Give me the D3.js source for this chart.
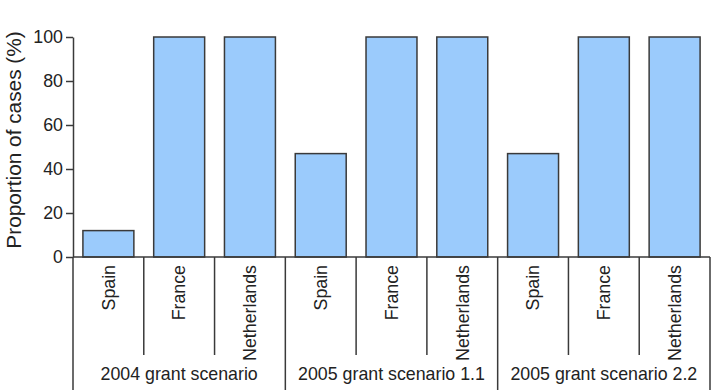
<!DOCTYPE html>
<html>
<head>
<meta charset="utf-8">
<script src="https://cdn.jsdelivr.net/npm/d3@7"></script>
<style>
  body { margin: 0; background: #fff; }
  text { font-family: "Liberation Sans", Arial, sans-serif; fill: #222; }
</style>
</head>
<body>
<svg id="chart"></svg>
<script>
const groups = ["2004 grant scenario", "2005 grant scenario 1.1", "2005 grant scenario 2.2"];
const countries = ["Spain", "France", "Netherlands"];
const values2004 = [12, 100, 100];
const values2005a = [47, 100, 100];
const values2005b = [47, 100, 100];
const yTicks = [0, 20, 40, 60, 80, 100];

const seriesByGroup = [values2004, values2005a, values2005b];

const fullWidth = 716;
const fullHeight = 390;
const margin = {top: 37, right: 6, bottom: 133, left: 73};
const width = fullWidth - margin.left - margin.right;
const height = fullHeight - margin.top - margin.bottom;

// flatten into one row per bar
const bars = [];
groups.forEach((g, gi) => {
  countries.forEach((c, ci) => {
    bars.push({group: g, country: c, key: g + "|" + c, value: seriesByGroup[gi][ci]});
  });
});

const svg = d3.select('#chart')
  .attr('width', fullWidth)
  .attr('height', fullHeight);

const g = svg.append('g')
  .attr('transform', 'translate(' + margin.left + ',' + margin.top + ')');

const x = d3.scaleBand().domain(bars.map(d => d.key)).range([0, width]).paddingInner(0.28).paddingOuter(0.14);
const xSlot = d3.scaleBand().domain(bars.map(d => d.key)).range([0, width]);
const xGroup = d3.scaleBand().domain(groups).range([0, width]);
const y = d3.scaleLinear().domain([0, 100]).range([height, 0]);

const lineColor = '#3a3a3a';
const labelSize = 17.8;

// bars
g.selectAll('.bar')
  .data(bars)
  .enter().append('rect')
    .attr('class', 'bar')
    .attr('x', d => x(d.key))
    .attr('y', d => y(d.value))
    .attr('width', x.bandwidth())
    .attr('height', d => height - y(d.value))
    .attr('fill', '#9bcbfc')
    .attr('stroke', lineColor)
    .attr('stroke-width', 1.5);

// y axis
const yAxis = g.append('g')
  .attr('class', 'axis axis--y')
  .call(d3.axisLeft(y).tickValues(yTicks).tickSize(7).tickSizeOuter(0).tickPadding(3));
yAxis.select('.domain').attr('stroke', lineColor).attr('stroke-width', 1.5);
yAxis.selectAll('.tick line').attr('stroke', lineColor).attr('stroke-width', 1.5);
yAxis.selectAll('.tick text').attr('font-size', labelSize).style('fill', '#222');

// y title
g.append('text')
  .attr('transform', 'rotate(-90)')
  .attr('x', -103)
  .attr('y', -52)
  .attr('text-anchor', 'middle')
  .attr('font-size', 20.8)
  .text('Proportion of cases (%)');

// x baseline
g.append('line')
  .attr('x1', 0).attr('x2', width)
  .attr('y1', height).attr('y2', height)
  .attr('stroke', lineColor).attr('stroke-width', 1.5);

// separators between bars
const slotEdges = bars.map(d => xSlot(d.key)).concat([width]);
g.selectAll('.sep')
  .data(slotEdges)
  .enter().append('line')
    .attr('class', 'sep')
    .attr('x1', d => d).attr('x2', d => d)
    .attr('y1', height)
    .attr('y2', (d, i) => i % countries.length === 0 ? fullHeight - margin.top : height + 98)
    .attr('stroke', lineColor)
    .attr('stroke-width', 1.5);

// country labels
g.selectAll('.country')
  .data(bars)
  .enter().append('text')
    .attr('class', 'country')
    .attr('transform', d => 'translate(' + (xSlot(d.key) + xSlot.bandwidth() / 2) + ',' + (height + 8) + ') rotate(-90)')
    .attr('dy', '0.35em')
    .attr('text-anchor', 'end')
    .attr('font-size', labelSize)
    .text(d => d.country);

// group labels
g.selectAll('.group')
  .data(groups)
  .enter().append('text')
    .attr('class', 'group')
    .attr('x', d => xGroup(d) + xGroup.bandwidth() / 2)
    .attr('y', height + 123)
    .attr('text-anchor', 'middle')
    .attr('font-size', labelSize)
    .text(d => d);
</script>
</body>
</html>
